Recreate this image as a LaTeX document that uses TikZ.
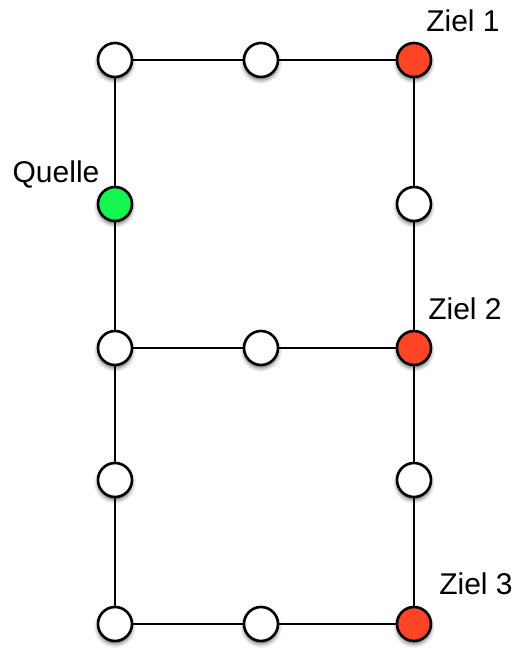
\documentclass[tikz,border=0pt]{standalone}
\usepackage{fontspec}
\setmainfont{Liberation Sans}
\usetikzlibrary{shadows.blur}

\definecolor{zielrot}{RGB}{255,69,38}
\definecolor{quellgruen}{RGB}{20,245,80}

\begin{document}
\begin{tikzpicture}[
		x=1pt, y=1pt,
		vertex/.style={circle, draw, line width=2.6pt, fill=white, minimum size=34pt,
		inner sep=0pt, blur shadow={shadow xshift=0pt, shadow yshift=-3pt,
		shadow blur radius=4pt, shadow opacity=60}},
		vertex-source/.style={vertex, fill=quellgruen},
		vertex-target/.style={vertex, fill=zielrot},
		link/.style={line width=2pt},
		caption/.style={inner sep=0pt, font=\fontsize{30}{32}\selectfont},
		]

		\useasboundingbox (0,0) rectangle (519,650);

		\def\colA{115}
		\def\colB{261}
		\def\colC{414}

		% left column
		\node[vertex]        (a1) at (\colA,590) {};
		\node[vertex-source] (a2) at (\colA,446) {};
		\node[vertex]        (a3) at (\colA,302) {};
		\node[vertex]        (a4) at (\colA,170) {};
		\node[vertex]        (a5) at (\colA,26)  {};

		% middle column
		\node[vertex]        (b1) at (\colB,590) {};
		\node[vertex]        (b3) at (\colB,302) {};
		\node[vertex]        (b5) at (\colB,26)  {};

		% right column
		\node[vertex-target] (c1) at (\colC,590) {};
		\node[vertex]        (c2) at (\colC,446) {};
		\node[vertex-target] (c3) at (\colC,302) {};
		\node[vertex]        (c4) at (\colC,170) {};
		\node[vertex-target] (c5) at (\colC,26)  {};

		% links
		\draw[link] (a1) -- (a2) -- (a3) -- (a4) -- (a5);
		\draw[link] (c1) -- (c2) -- (c3) -- (c4) -- (c5);
		\draw[link] (a1) -- (b1) -- (c1);
		\draw[link] (a3) -- (b3) -- (c3);
		\draw[link] (a5) -- (b5) -- (c5);

		% captions
		\node[caption] (quelle) at (56,476) {Quelle};
		\node[caption] (ziel1)  at (463,629) {Ziel 1};
		\node[caption] (ziel2)  at (465,341) {Ziel 2};
		\node[caption] (ziel3)  at (476,66)  {Ziel 3};

	\end{tikzpicture}
\end{document}
